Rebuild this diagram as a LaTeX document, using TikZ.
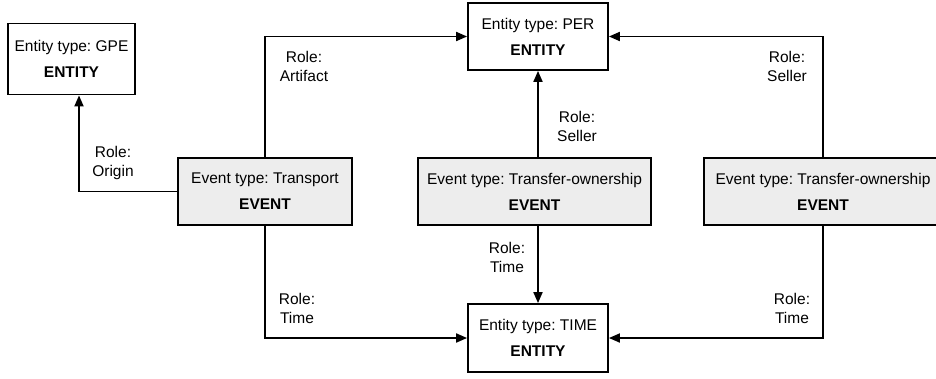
\documentclass[tikz,border=0pt]{standalone}
\usepackage{fontspec}
\setmainfont{Liberation Sans}
\usetikzlibrary{arrows.meta}
\frenchspacing
\begin{document}
\begin{tikzpicture}[x=1pt,y=-1pt,
  box/.style={draw=black, line width=1.8pt, align=center, inner sep=0pt,
    font=\fontsize{15.5}{18}\selectfont, text=black},
  entitybox/.style={box, fill=white, minimum width=140pt, minimum height=67pt},
  eventbox/.style={box, fill=black!7, minimum height=67pt},
  rolelabel/.style={align=center, inner sep=0pt, text=black,
    font=\fontsize{15.5}{19}\selectfont},
  link/.style={line width=1.8pt, -{Triangle[length=11pt,width=9pt]}}]
\useasboundingbox (0,0) rectangle (936,378);

% entities
\node[entitybox, minimum width=127pt, minimum height=71pt] (gpe) at (71.5,59)
  {Entity type: GPE\\[8pt]\textbf{ENTITY}};
\node[entitybox] (per) at (538,36.5) {Entity type: PER\\[8pt]\textbf{ENTITY}};
\node[entitybox, minimum height=68pt] (time) at (538,338)
  {Entity type: TIME\\[8pt]\textbf{ENTITY}};

% events
\node[eventbox, minimum width=174pt] (tr) at (265,191.5)
  {Event type: Transport\\[8pt]\textbf{EVENT}};
\node[eventbox, minimum width=233pt] (mt) at (534.5,191.5)
  {Event type: Transfer-ownership\\[8pt]\textbf{EVENT}};
\node[eventbox, minimum width=238pt] (rt) at (823,191.5)
  {Event type: Transfer-ownership\\[8pt]\textbf{EVENT}};

% role arguments
\draw[link] (tr.west) -| ([xshift=7.5pt]gpe.south);
\draw[link] (tr.north) |- (per.west);
\draw[link] (per.south |- mt.north) -- (per.south);
\draw[link] (rt.north) |- (per.east);
\draw[link] (tr.south) |- (time.west);
\draw[link] (time.north |- mt.south) -- (time.north);
\draw[link] (rt.south) |- (time.east);

% role labels
\node[rolelabel] (lorigin) at (113,162.5) {Role:\\Origin};
\node[rolelabel] (lartifact) at (304,66.5) {Role:\\Artifact};
\node[rolelabel] (lsellerm) at (577,126) {Role:\\Seller};
\node[rolelabel] (lsellerr) at (787,66.5) {Role:\\Seller};
\node[rolelabel] (ltimel) at (297,308.5) {Role:\\Time};
\node[rolelabel] (ltimem) at (507,257) {Role:\\Time};
\node[rolelabel] (ltimer) at (792,308.5) {Role:\\Time};
\end{tikzpicture}
\end{document}
